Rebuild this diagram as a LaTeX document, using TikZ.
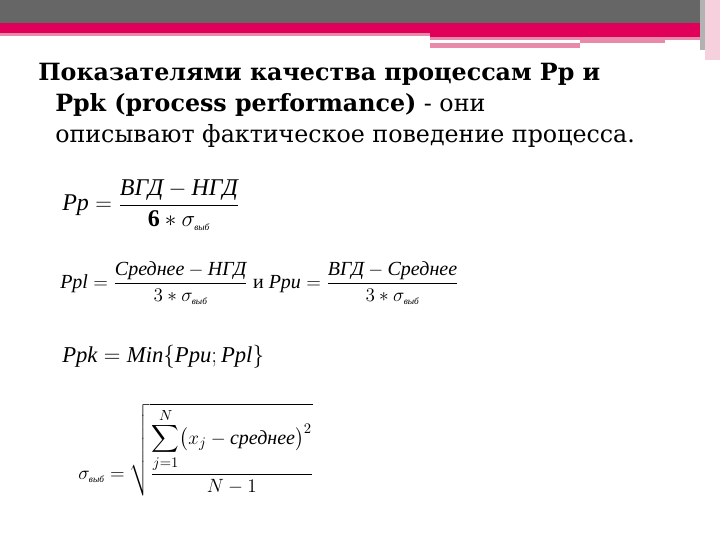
\documentclass[tikz,border=0pt]{standalone}
\usepackage{amsmath}
\usepackage{fontspec}
\setmainfont{Liberation Serif}
\newfontfamily\ttlfont{DejaVu Serif}
\definecolor{barg}{HTML}{666666}
\definecolor{barp}{HTML}{E0005A}
\definecolor{lpink}{HTML}{EA8AAA}
\newcommand{\ti}[1]{\text{\itshape #1}}
\newcommand{\sv}{\sigma_{\ti{\scriptsize выб}}}
\begin{document}
\begin{tikzpicture}[x=0.75pt,y=-0.75pt,
 ttl/.style={anchor=base west,inner sep=0pt,font=\ttlfont\fontsize{17.8}{23}\selectfont},
 frm/.style={anchor=west,inner sep=0pt,font=\fontsize{15}{18}\selectfont}]
\useasboundingbox (0,0) rectangle (720,540);
\fill[white] (0,0) rectangle (720,540);
\fill[barg] (0,0) rectangle (720,23);
\fill[barp] (0,23) rectangle (720,33);
\fill[lpink] (0,33) rectangle (430,36);
\fill[barp] (430,33) rectangle (700,37);
\fill[lpink] (430,37) rectangle (700,40);
\fill[lpink] (430,43) rectangle (580,48);
\fill[lpink] (580,40) rectangle (665,43);
\fill[lpink!40] (705,0) rectangle (720,60);
\fill[barg!50] (700,0) rectangle (705,50);
\node[ttl] (l1) at (38,80) {\textbf{Показателями качества процессам Pp и}};
\node[ttl] (l2) at (55,111) {\textbf{Ppk (process performance)} - они};
\node[ttl] (l3) at (55,142) {описывают фактическое поведение процесса.};
\node[frm,font=\fontsize{18}{20}\selectfont] (f1) at (62,205) {$\ti{Pp} = \dfrac{\ti{ВГД} - \ti{НГД}}{\mathbf{6}*\sv}$};
\node[frm] (f2) at (60,283) {$\ti{Ppl} = \dfrac{\ti{Среднее} - \ti{НГД}}{3*\sv}$ и $\ti{Ppu} = \dfrac{\ti{ВГД} - \ti{Среднее}}{3*\sv}$};
\node[frm,font=\fontsize{17}{20}\selectfont] (f3) at (62,357) {$\ti{Ppk} = \ti{Min}\{\ti{Ppu}; \ti{Ppl}\}$};
\node[frm] (f4) at (78,450) {$\sv = \sqrt{\dfrac{\displaystyle\sum_{j=1}^{N}\bigl(x_j - \ti{среднее}\bigr)^2}{N-1}}$};
\end{tikzpicture}
\end{document}
